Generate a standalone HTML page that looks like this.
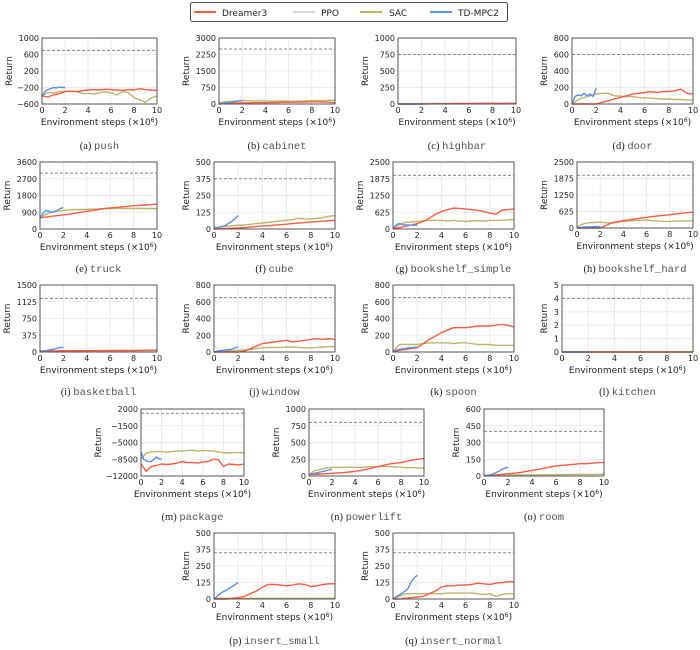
<!DOCTYPE html>
<html><head><meta charset="utf-8">
<style>
html,body{margin:0;padding:0;background:#fff;}
svg{display:block;font-family:"DejaVu Sans","Liberation Sans",sans-serif;}
.tick{font-size:8px;fill:#222;}
.lab{font-size:9px;fill:#222;}
.cap{font-size:10.5px;}
</style></head>
<body>
<svg id="chart" width="700" height="650" viewBox="0 0 700 650" xmlns="http://www.w3.org/2000/svg">
  <g>
    <rect x="190.5" y="2.5" width="317" height="19" rx="2" fill="#fff" stroke="#222" stroke-width="0.8"/>
    <g><line x1="194" y1="12" x2="216" y2="12" stroke="#ff5a45" stroke-width="2"/><text x="222" y="16" class="lab" font-size="10">Dreamer3</text></g>
    <g><line x1="293" y1="12" x2="315" y2="12" stroke="#d9d9d9" stroke-width="2"/><text x="321" y="16" class="lab">PPO</text></g>
    <g><line x1="360" y1="12" x2="382" y2="12" stroke="#bdb56a" stroke-width="2"/><text x="389" y="16" class="lab">SAC</text></g>
    <g><line x1="430" y1="12" x2="452" y2="12" stroke="#5b8ff0" stroke-width="2"/><text x="458" y="16" class="lab">TD-MPC2</text></g>
  </g>
</svg>
<script>
const xLong=[0,0.5,1,1.5,2,2.5,3,3.5,4,4.5,5,5.5,6,6.5,7,7.5,8,8.5,9,9.5,10];
const xShort=[0,0.25,0.5,0.75,1,1.25,1.5,1.75,2];
const xTicks=[0,2,4,6,8,10];
const taskNames=["push","cabinet","highbar","door","truck","cube","bookshelf_simple","bookshelf_hard","basketball","window","spoon","kitchen","package","powerlift","room","insert_small","insert_normal"];
const taskLetters=["a","b","c","d","e","f","g","h","i","j","k","l","m","n","o","p","q"];
const yTicksAll=[[-600,-200,200,600,1000],[0,750,1500,2250,3000],[0,250,500,750,1000],[0,200,400,600,800],[0,900,1800,2700,3600],[0,125,250,375,500],[0,625,1250,1875,2500],[0,625,1250,1875,2500],[0,375,750,1125,1500],[0,200,400,600,800],[0,200,400,600,800],[0,1,2,3,4,5],[-12000,-8500,-5000,-1500,2000],[0,250,500,750,1000],[0,150,300,450,600],[0,125,250,375,500],[0,125,250,375,500]];
const targetValues=[700,2500,750,600,3000,375,2000,2000,1200,650,650,4,1100,800,400,350,350];
const dreamerValues=[
[-400,-430,-380,-350,-300,-290,-300,-280,-260,-250,-260,-240,-250,-260,-270,-250,-260,-230,-250,-260,-270],
[0,20,30,40,50,50,60,60,60,70,70,80,80,80,90,90,100,100,90,80,60],
[0,0,0,0,0,2,3,4,5,6,8,8,9,9,10,10,10,9,10,10,10],
[0,0,0,0,0,20,40,60,80,100,120,130,140,150,140,150,150,160,180,130,120],
[600,640,680,720,760,800,850,900,950,1000,1050,1100,1130,1160,1190,1220,1250,1270,1290,1310,1330],
[0,2,4,6,8,10,14,18,22,25,28,32,36,40,44,48,52,55,58,62,65],
[0,50,100,150,200,280,400,550,650,720,780,770,750,720,700,650,600,550,700,720,750],
[0,0,0,0,0,100,200,240,280,310,340,370,400,430,460,480,500,530,560,580,600],
[20,22,24,25,26,27,28,29,30,30,31,32,33,34,34,35,36,37,38,40,40],
[0,0,0,0,0,10,40,70,100,110,120,130,140,120,130,140,150,160,150,160,150],
[0,20,30,40,50,100,150,190,230,260,290,290,290,300,310,310,310,320,330,320,300],
[0,0,0,0,0,0,0,0,0,0,0,0,0,0,0,0,0,0,0,0,0],
[-9500,-11000,-10000,-9800,-9500,-9600,-9500,-9300,-9000,-9200,-9200,-9300,-9100,-9000,-8500,-8600,-10000,-9500,-9600,-9700,-9500],
[20,25,30,35,40,45,50,60,70,80,100,120,140,160,180,190,200,220,240,250,260],
[0,5,10,15,20,25,30,40,50,60,70,80,90,95,100,105,110,110,115,120,120],
[0,0,0,5,10,20,40,60,90,110,110,105,100,105,115,110,95,100,110,115,115],
[0,0,5,10,15,20,40,60,90,100,100,105,105,110,120,115,110,120,125,130,130]];
const sacValues=[
[-400,-320,-330,-300,-290,-300,-300,-350,-340,-360,-330,-300,-330,-380,-300,-320,-450,-500,-560,-450,-400],
[50,100,120,140,160,150,140,140,130,130,130,130,130,120,130,140,150,160,160,170,170],
[0,1,2,2,3,3,3,4,4,5,5,5,5,6,6,6,6,6,7,7,7],
[0,50,80,100,120,130,130,100,95,90,90,80,75,70,65,60,60,55,55,50,50],
[600,800,900,950,1000,1020,1040,1050,1060,1070,1080,1090,1100,1110,1100,1100,1100,1110,1100,1100,1100],
[10,15,20,25,28,30,35,40,45,50,55,60,65,70,80,75,75,80,85,95,100],
[0,150,250,260,280,300,320,320,320,300,320,290,280,300,310,300,320,320,330,340,350],
[50,150,200,210,220,200,180,220,250,270,280,290,300,280,260,250,250,260,260,270,270],
[20,22,24,25,26,26,27,27,28,28,28,29,29,30,30,30,30,31,31,31,32],
[0,5,10,15,20,25,30,40,50,55,55,55,60,60,55,50,50,55,60,65,65],
[0,90,90,90,90,100,110,110,110,110,100,110,110,100,90,90,90,80,80,80,80],
[0,0,0,0,0,0,0,0,0,0,0,0,0,0,0,0,0,0,0,0,0],
[-8500,-7200,-7000,-6900,-6900,-7000,-6900,-6800,-6800,-6700,-6600,-6800,-6700,-6700,-6800,-7000,-7100,-7200,-7100,-7100,-7200],
[20,80,100,120,130,130,130,130,130,130,135,140,140,140,140,135,130,125,125,120,120],
[5,6,7,8,8,9,9,10,10,11,11,12,12,12,13,13,14,14,14,15,15],
[5,5,5,5,5,5,5,5,5,5,5,5,5,5,5,5,5,5,5,5,5],
[0,20,40,40,40,40,40,40,40,45,45,45,45,45,40,35,40,20,35,40,40]];
const tdmpcValues=[
[-420,-300,-250,-230,-200,-210,-190,-200,-200],
[0,20,40,60,80,100,120,140,150],
[0,0,0,0,0,0,0,0,0],
[0,90,110,100,130,100,120,90,190],
[550,850,1000,950,900,950,1000,1100,1150],
[5,10,15,20,30,45,60,80,100],
[0,150,200,180,150,150,140,140,150],
[0,20,30,40,40,45,50,50,50],
[0,15,30,45,55,70,85,100,100],
[0,10,15,20,25,30,35,50,60],
[0,20,30,40,40,50,50,55,60],
[0,0,0,0,0,0,0,0,0],
[-7000,-8500,-8800,-9000,-9000,-8500,-8000,-8400,-8500],
[20,30,40,50,60,70,80,90,100],
[0,5,10,20,30,45,60,70,80],
[0,20,40,55,65,80,95,110,125],
[0,15,30,45,60,80,130,160,180]];

// layout (pixel boxes) kept separate from data
const boxes=[[42,157,38,104],[219,335,38,104],[398,516,38,104],[572,693,38,104],
[40,157,162,229],[214,335,162,229],[393,514,162,229],[577,693,162,228],
[40,157,285,352],[214,335,285,352],[393,514,285,352],[562,693,285,352],
[141,244,409,476],[309,424,409,476],[484,604,409,476],
[214,335,533,599],[393,514,533,599]];
const capY=[145,145,145,145,268,268,268,268,391,391,391,391,516,516,516,640,640];

const svg=document.getElementById('chart');
const NS='http://www.w3.org/2000/svg';
function mk(tag,attrs,parent){const e=document.createElementNS(NS,tag);for(const k in attrs)e.setAttribute(k,attrs[k]);parent.appendChild(e);return e;}

taskNames.forEach((name,i)=>{
  const [x0,x1,y0,y1]=boxes[i];
  const yt=yTicksAll[i];
  const ymin=yt[0], ymax=yt[yt.length-1];
  const sx=v=>x0+(v-0)/(10-0)*(x1-x0);
  const sy=v=>y1-(v-ymin)/(ymax-ymin)*(y1-y0);
  const g=mk('g',{},svg);
  
  
  // grid
  xTicks.forEach(t=>{const l=mk('line',{x1:sx(t),x2:sx(t),y1:y0,y2:y1,stroke:'#e6e6e6','stroke-width':0.8},g);
    
    });
  yt.forEach(t=>{const l=mk('line',{x1:x0,x2:x1,y1:sy(t),y2:sy(t),stroke:'#e6e6e6','stroke-width':0.8},g);
    
    });
  // target
  const dl=mk('line',{x1:x0,x2:x1,y1:sy(targetValues[i]),y2:sy(targetValues[i]),stroke:'#888','stroke-width':1,'stroke-dasharray':'3,2'},g);
  
  
  const series=[[sacValues[i],xLong,'#bdb56a','sac-line'],[dreamerValues[i],xLong,'#ff5a45','dreamer3-line'],[tdmpcValues[i],xShort,'#5b8ff0','tdmpc2-line']];
  series.forEach(([vals,xs,col,nm])=>{
    const pts=vals.map((v,k)=>sx(xs[k]).toFixed(1)+','+sy(v).toFixed(1)).join(' ');
    const p=mk('polyline',{points:pts,fill:'none',stroke:col,'stroke-width':1.4,'stroke-linejoin':'round'},g);
    
    
  });
  // frame
  const fr=mk('rect',{x:x0,y:y0,width:x1-x0,height:y1-y0,fill:'none',stroke:'#444','stroke-width':0.9},g);
  
  
  // ticks
  xTicks.forEach(t=>{const tx=mk('text',{x:sx(t),y:y1+9,'text-anchor':'middle',class:'tick'},g);tx.textContent=t;
    
    });
  yt.forEach(t=>{const tx=mk('text',{x:x0-3,y:sy(t)+3,'text-anchor':'end',class:'tick'},g);tx.textContent=(t<0?'\u2212'+(-t):t);
    
    });
  const xl=mk('text',{x:(x0+x1)/2,y:y1+21,'text-anchor':'middle',class:'lab'},g);
  xl.innerHTML='Environment steps (\u00d710<tspan dy="-3" font-size="6">6</tspan><tspan dy="3">)</tspan>';
  
  
  const lw=Math.max(...yt.map(t=>String(t).length))*5+6;
  const yl=mk('text',{x:0,y:0,'text-anchor':'middle',class:'lab',transform:`translate(${x0-lw-4},${(y0+y1)/2}) rotate(-90)`},g);
  yl.textContent='Return';
  
  
  const cp=mk('text',{x:(x0+x1)/2,y:capY[i]+4,'text-anchor':'middle',class:'cap'},g);
  cp.innerHTML=`<tspan font-family="Liberation Serif, serif" fill="#222">(${taskLetters[i]}) </tspan><tspan font-family="Liberation Mono, monospace" fill="#555">${name}</tspan>`;
  
  
});
</script>
</body></html>
